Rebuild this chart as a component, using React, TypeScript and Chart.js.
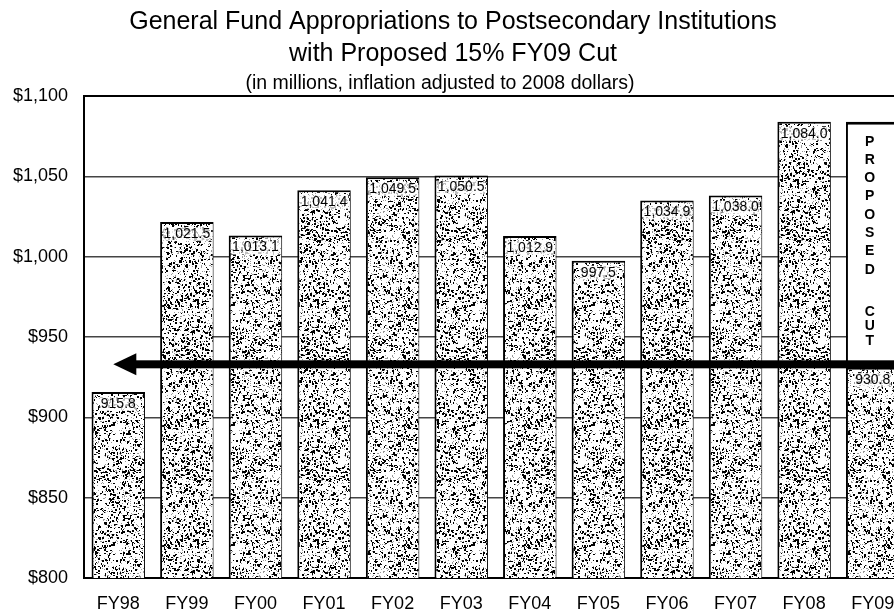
import React, { useEffect, useRef } from "react";
import { Chart, registerables } from "chart.js";

Chart.register(...registerables);

const categories = ["FY98", "FY99", "FY00", "FY01", "FY02", "FY03", "FY04", "FY05", "FY06", "FY07", "FY08", "FY09"];
const appropriations = [915.8, 1021.5, 1013.1, 1041.4, 1049.5, 1050.5, 1012.9, 997.5, 1034.9, 1038.0, 1084.0, 930.8];
const proposedCut: ([number, number] | null)[] = [null, null, null, null, null, null, null, null, null, null, null, [930.8, 1084.0]];
const arrowLevel = 933;
const yMin = 800;
const yMax = 1100;
const yStep = 50;
const titleLines = [
  "General Fund Appropriations to Postsecondary Institutions",
  "with Proposed 15% FY09 Cut",
  "(in millions, inflation adjusted to 2008 dollars)",
];
const cutWords = ["PROPOSED", "CUT"];

const FONT = "'Liberation Sans', Arial, Helvetica, sans-serif";

function makeStipple(ctx: CanvasRenderingContext2D): CanvasPattern | string {
  const size = 120;
  const c = document.createElement("canvas");
  c.width = size;
  c.height = size;
  const g = c.getContext("2d");
  if (!g) return "#999";
  g.fillStyle = "#fff";
  g.fillRect(0, 0, size, size);
  let s = 987654321;
  const rnd = () => {
    s = (Math.imul(s, 1103515245) + 12345) >>> 0;
    return s / 4294967296;
  };
  g.fillStyle = "#9a9a9a";
  for (let i = 0; i < 1200; i++) {
    g.fillRect(Math.floor(rnd() * size), Math.floor(rnd() * size), 1, 1);
  }
  g.fillStyle = "#000";
  for (let i = 0; i < 1500; i++) {
    const x = Math.floor(rnd() * size);
    const y = Math.floor(rnd() * size);
    const w = 1 + Math.floor(rnd() * 2);
    const h = 1 + Math.floor(rnd() * 2);
    g.fillRect(x, y, w, h);
  }
  return ctx.createPattern(c, "repeat") || "#999";
}

const fmt = (v: number) =>
  v.toLocaleString("en-US", { minimumFractionDigits: 1, maximumFractionDigits: 1 });

const decorPlugin = {
  id: "decor",
  afterDatasetsDraw(chart: any) {
    const ctx: CanvasRenderingContext2D = chart.ctx;
    const yScale = chart.scales.y;
    const area = chart.chartArea;
    ctx.save();
    // value labels
    const meta0 = chart.getDatasetMeta(0);
    ctx.font = `14px ${FONT}`;
    ctx.textAlign = "center";
    ctx.textBaseline = "middle";
    meta0.data.forEach((bar: any, i: number) => {
      const txt = fmt(appropriations[i]);
      const w = ctx.measureText(txt).width;
      const cy = bar.y + 12;
      ctx.fillStyle = "rgba(255,255,255,0.75)";
      ctx.fillRect(bar.x - w / 2 - 1, cy - 7, w + 2, 14);
      ctx.fillStyle = "#000";
      ctx.fillText(txt, bar.x, cy);
    });
    // proposed cut letters
    const meta1 = chart.getDatasetMeta(1);
    const cutBar: any = meta1.data[11];
    if (cutBar) {
      ctx.font = `bold 14px ${FONT}`;
      ctx.fillStyle = "#000";
      const top = cutBar.y;
      cutWords[0].split("").forEach((ch, i) => {
        ctx.fillText(ch, cutBar.x - 3, top + 20 + i * 18.3);
      });
      cutWords[1].split("").forEach((ch, i) => {
        ctx.fillText(ch, cutBar.x - 3, top + 190 + i * 14.7);
      });
    }
    // arrow
    const ay = yScale.getPixelForValue(arrowLevel);
    const x0 = chart.scales.x.getPixelForValue(0) - 5;
    ctx.fillStyle = "#000";
    ctx.fillRect(x0 + 20, ay - 4, area.right - x0 - 20, 8);
    ctx.beginPath();
    ctx.moveTo(x0, ay);
    ctx.lineTo(x0 + 23, ay - 11);
    ctx.lineTo(x0 + 23, ay + 11);
    ctx.closePath();
    ctx.fill();
    ctx.restore();
  },
  afterDraw(chart: any) {
    const ctx: CanvasRenderingContext2D = chart.ctx;
    ctx.save();
    ctx.fillStyle = "#000";
    ctx.textAlign = "center";
    ctx.textBaseline = "middle";
    ctx.font = `25px ${FONT}`;
    ctx.fillText(titleLines[0], 453, 22);
    ctx.fillText(titleLines[1], 453, 54);
    ctx.font = `19.5px ${FONT}`;
    ctx.fillText(titleLines[2], 440, 84);
    ctx.restore();
  },
};

export default function App() {
  const ref = useRef<HTMLCanvasElement | null>(null);
  useEffect(() => {
    document.body.style.margin = "0";
    const canvas = ref.current;
    if (!canvas) return;
    const ctx = canvas.getContext("2d");
    if (!ctx) return;
    const stipple = makeStipple(ctx);
    const chart = new Chart(ctx, {
      type: "bar",
      data: {
        labels: categories,
        datasets: [
          {
            data: appropriations,
            backgroundColor: stipple as any,
            borderColor: "#000",
            borderWidth: { top: 2, left: 2, right: 1, bottom: 0 },
            borderSkipped: false,
            grouped: false,
            barPercentage: 0.78,
            categoryPercentage: 1,
            order: 2,
          },
          {
            data: proposedCut as any,
            backgroundColor: "#fff",
            borderColor: "#000",
            borderWidth: { top: 3, left: 2, right: 2, bottom: 0 },
            borderSkipped: false,
            grouped: false,
            barPercentage: 0.78,
            categoryPercentage: 1,
            order: 1,
          },
        ],
      },
      options: {
        responsive: false,
        animation: false,
        devicePixelRatio: 1,
        layout: { padding: { top: 96, right: 3, left: 0, bottom: 0 } },
        plugins: {
          legend: { display: false },
          tooltip: { enabled: false },
          title: { display: false },
        },
        scales: {
          x: {
            grid: { display: false, drawTicks: false },
            border: { color: "#000", width: 2 },
            ticks: { color: "#000", font: { family: FONT, size: 18 }, padding: 15, maxRotation: 0, autoSkip: false },
            afterFit: (scale: any) => {
              scale.height = 34;
            },
          },
          y: {
            min: yMin,
            max: yMax,
            grid: {
              drawTicks: false,
              color: (c: any) => (c.tick && c.tick.value === yMax ? "#000" : "#444"),
              lineWidth: (c: any) => (c.tick && c.tick.value === yMax ? 2 : 1.5),
            },
            border: { color: "#000", width: 2 },
            ticks: {
              stepSize: yStep,
              color: "#000",
              padding: 16,
              font: { family: FONT, size: 18 },
              callback: (v: any) => "$" + Number(v).toLocaleString("en-US"),
            },
            afterFit: (scale: any) => {
              scale.width = 84;
            },
          },
        },
      },
      plugins: [decorPlugin],
    });
    return () => chart.destroy();
  }, []);
  return (
    <div style={{ width: 894, height: 612, overflow: "hidden", position: "relative", background: "#fff" }}>
      <canvas ref={ref} width={910} height={612} style={{ display: "block", width: 910, height: 612 }} />
    </div>
  );
}
